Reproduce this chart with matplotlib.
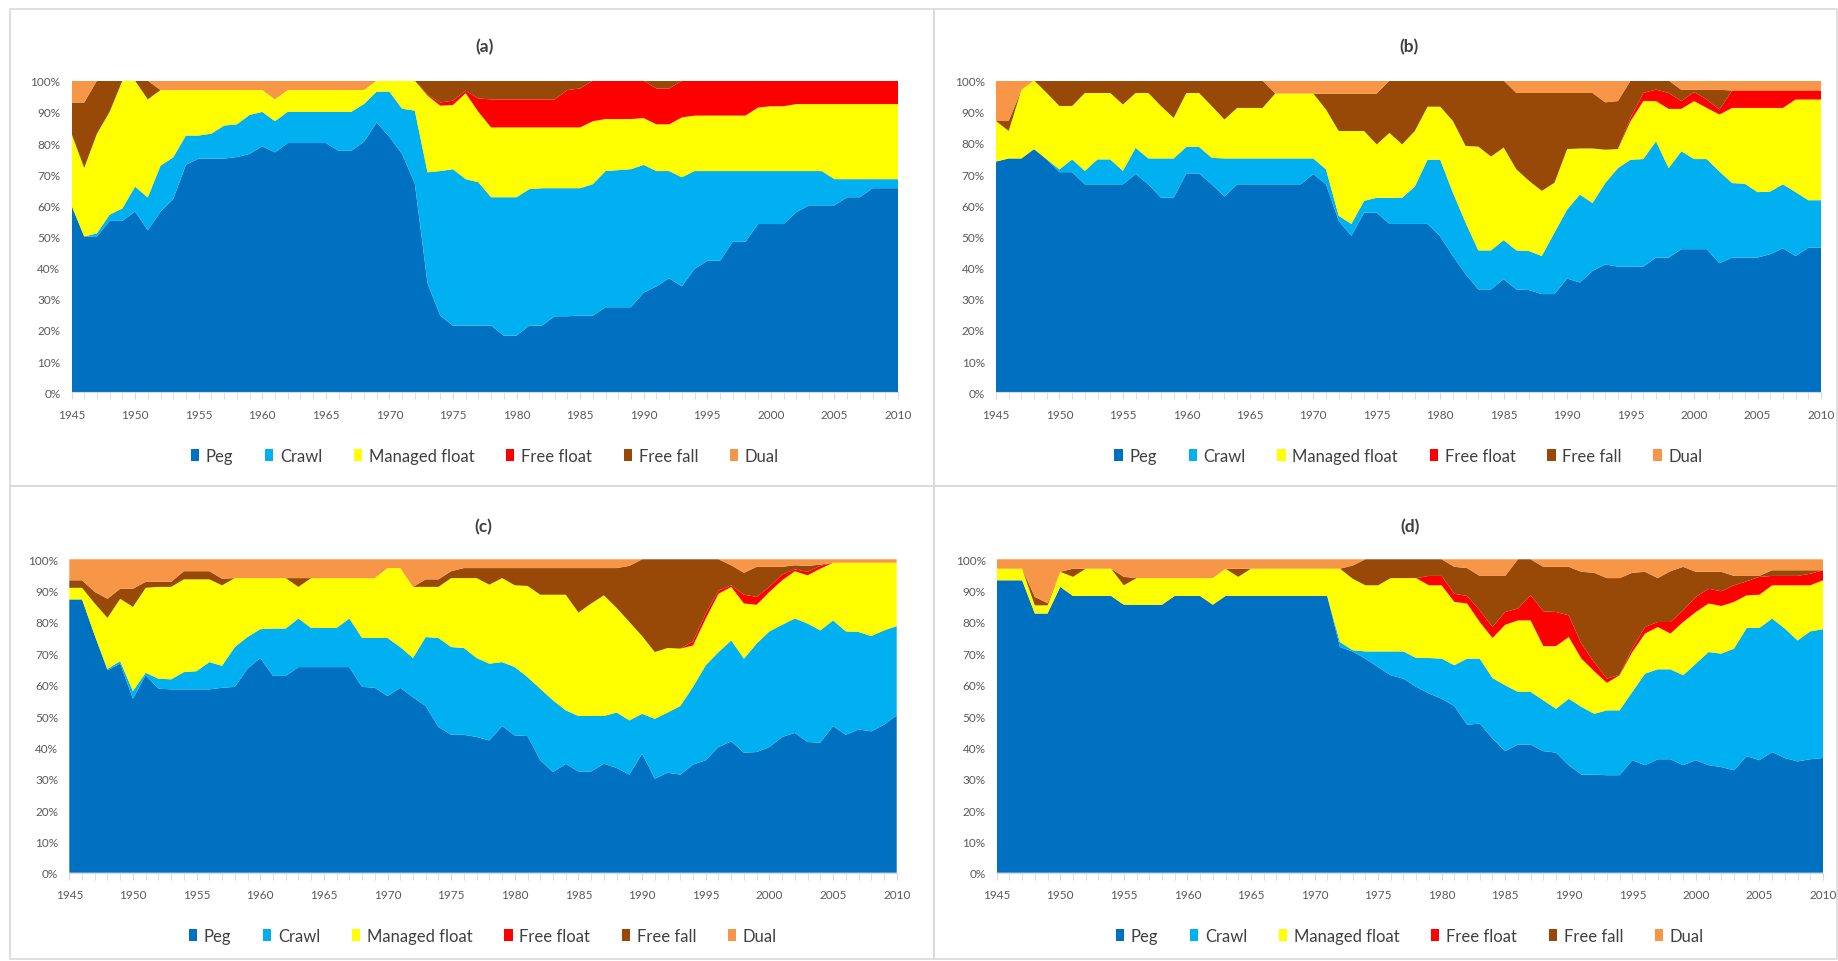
import numpy as np
import matplotlib
matplotlib.use("Agg")
import matplotlib.pyplot as plt
from matplotlib.patches import Patch, Rectangle
from matplotlib.ticker import MultipleLocator, FuncFormatter

plt.rcParams['font.family'] = ['Lato', 'DejaVu Sans']

years = list(range(1945, 2011))

regimes = ['Peg', 'Crawl', 'Managed float', 'Free float', 'Free fall', 'Dual']
colors = ['#0070C0', '#00B0F0', '#FFFF00', '#FF0000', '#984807', '#F79646']
panel_titles = ['(a)', '(b)', '(c)', '(d)']

# upper edge (cumulative %) of each regime band, 1945..2010
# panel (a)
peg_top_a = [60, 50, 50, 55, 55, 58, 52, 58, 62, 73,
             75, 75, 75, 75.5, 76.5, 79, 77, 80, 80, 80,
             80, 77.5, 77.5, 80.4, 86.6, 82, 76.5, 67, 35, 24.6,
             21.4, 21.4, 21.4, 21.4, 18.2, 18.2, 21.4, 21.4, 24.4, 24.4,
             24.6, 24.6, 27.3, 27.3, 27.3, 32, 34, 36.6, 34, 39.6,
             42.2, 42.2, 48.3, 48.3, 54, 54, 54, 57.8, 60, 60,
             60, 62.6, 62.6, 65.5, 65.5, 65.5]
crawl_top_a = [60, 50, 51, 57, 59, 66, 62.5, 72.7, 75.4, 82.4,
               82.4, 83, 85.6, 86, 89, 90, 87, 90, 90, 90,
               90, 90, 90, 92.5, 96.5, 96.5, 91, 90.4, 70.6, 71,
               71.6, 68.4, 67.4, 62.6, 62.6, 62.6, 65.2, 65.5, 65.5, 65.5,
               65.5, 66.8, 71, 71.3, 71.6, 73, 71, 71, 69, 71,
               71, 71, 71, 71, 71, 71, 71, 71, 71, 71,
               68.4, 68.4, 68.4, 68.4, 68.4, 68.4]
managed_top_a = [83, 72, 83, 90, 100, 100, 94, 97, 97, 97,
                 97, 97, 97, 97, 97, 97, 94, 97, 97, 97,
                 97, 97, 97, 97, 100, 100, 100, 100, 95.2, 92,
                 92.2, 96, 90, 85, 85, 85, 85, 85, 85, 85,
                 85, 87, 87.7, 87.7, 87.7, 88, 86, 86, 88.2, 88.8,
                 88.8, 88.8, 88.8, 88.8, 91.4, 91.8, 91.8, 92.5, 92.5, 92.5,
                 92.5, 92.5, 92.5, 92.5, 92.5, 92.5]
float_top_a = [83, 72, 83, 90, 100, 100, 94, 97, 97, 97,
               97, 97, 97, 97, 97, 97, 94, 97, 97, 97,
               97, 97, 97, 97, 100, 100, 100, 100, 95.5, 93,
               93.6, 96.8, 94.3, 94, 94, 94, 94, 94, 94, 97,
               97.5, 100, 100, 100, 100, 100, 97.5, 97.5, 100, 100,
               100, 100, 100, 100, 100, 100, 100, 100, 100, 100,
               100, 100, 100, 100, 100, 100]
fall_top_a = [93, 93, 100, 100, 100, 100, 100, 97, 97, 97,
              97, 97, 97, 97, 97, 97, 94, 97, 97, 97,
              97, 97, 97, 97, 100, 100, 100, 100, 100, 100,
              100, 100, 100, 100, 100, 100, 100, 100, 100, 100,
              100, 100, 100, 100, 100, 100, 100, 100, 100, 100,
              100, 100, 100, 100, 100, 100, 100, 100, 100, 100,
              100, 100, 100, 100, 100, 100]

# panel (b)
peg_top_b = [74, 75, 75, 78, 74.7, 70.6, 70.6, 66.7, 66.7, 66.7,
             66.7, 70, 66.7, 62.4, 62.4, 70.2, 70.2, 66.7, 62.8, 66.7,
             66.7, 66.7, 66.7, 66.7, 66.7, 70, 66.7, 55, 50.2, 57.6,
             57.6, 54, 54, 54, 54, 50, 43.7, 37.9, 33, 33,
             36.3, 33, 32.8, 31.5, 31.5, 36.5, 35.2, 38.9, 41, 40.3,
             40.3, 40.3, 43.2, 43.2, 45.9, 45.9, 45.9, 41.4, 43.2, 43.2,
             43.2, 44.3, 46.2, 43.7, 46.4, 46.4]
crawl_top_b = [74, 75, 75, 78, 74.7, 71.5, 74.7, 71, 74.7, 74.7,
               71, 78.4, 75, 75, 75, 78.7, 78.7, 75.2, 75, 75,
               75, 75, 75, 75, 75, 75, 71.5, 56.6, 54, 61.4,
               62.4, 62.4, 62.4, 66, 74.6, 74.6, 64, 54.4, 45.5, 45.5,
               48.8, 45.5, 45.3, 43.7, 51.2, 58.6, 63.4, 60.7, 67.1, 71.9,
               74.6, 74.8, 80.5, 71.9, 77.3, 74.8, 74.8, 70.8, 67.1, 66.9,
               64.2, 64.4, 66.7, 64.2, 61.6, 61.6]
managed_top_b = [87, 83.8, 97, 100, 96, 91.8, 91.8, 96, 96, 96,
                 92.3, 96, 96, 91.8, 88, 96, 96, 91.8, 87.5, 91.2,
                 91.2, 91.2, 95.8, 95.8, 95.8, 95.8, 90.7, 83.8, 83.8, 83.8,
                 79.5, 83.2, 79.5, 83.8, 91.6, 91.6, 87, 79, 78.8, 75.6,
                 78.5, 71.5, 67.8, 64.6, 67.2, 78, 78.2, 78.2, 77.8, 78,
                 87, 93.4, 93.4, 90.9, 90.9, 93.4, 91.2, 89.1, 91.2, 91.2,
                 91.2, 91.2, 91.2, 93.9, 93.9, 93.9]
float_top_b = [87, 83.8, 97, 100, 96, 91.8, 91.8, 96, 96, 96,
               92.3, 96, 96, 91.8, 88, 96, 96, 91.8, 87.5, 91.2,
               91.2, 91.2, 95.8, 95.8, 95.8, 95.8, 90.7, 83.8, 83.8, 83.8,
               79.5, 83.2, 79.5, 83.8, 91.6, 91.6, 87, 79, 78.8, 75.6,
               78.5, 71.5, 67.8, 64.6, 67.2, 78, 78.2, 78.2, 77.8, 78,
               88, 96, 97.1, 96, 93.4, 96.3, 93.9, 90.7, 96.8, 96.8,
               96.8, 96.8, 96.8, 96.8, 96.8, 96.8]
fall_top_b = [87, 87, 97, 100, 100, 100, 100, 100, 100, 100,
              100, 100, 100, 100, 100, 100, 100, 100, 100, 100,
              100, 100, 95.8, 95.8, 95.8, 95.8, 95.8, 95.8, 95.8, 95.8,
              95.8, 100, 100, 100, 100, 100, 100, 100, 100, 100,
              100, 96, 96, 96, 96, 96, 96, 96, 93, 93.4,
              100, 100, 100, 100, 97, 97, 97, 97, 96.8, 96.8,
              96.8, 96.8, 96.8, 96.8, 96.8, 96.8]

# panel (c)
peg_top_c = [87.2, 87.2, 75.7, 64.6, 66.7, 55.5, 63, 58.7, 58.5, 58.5,
             58.5, 58.5, 59, 59.3, 65.1, 68.5, 62.8, 62.8, 65.6, 65.6,
             65.6, 65.6, 65.6, 59.3, 59, 56.4, 59, 56, 53.2, 46.5,
             44, 44, 43.3, 42.2, 46.8, 43.8, 43.6, 35.9, 32.1, 34.7,
             32.3, 32.3, 34.8, 33.4, 31.3, 38, 30, 31.9, 31.3, 34.5,
             35.9, 40.1, 41.9, 38.3, 38.5, 40.1, 43.3, 44.6, 41.7, 41.5,
             46.8, 44, 45.7, 45.1, 47.2, 50.2]
crawl_top_c = [87.2, 87.2, 75.7, 65, 67.5, 57.9, 63.8, 61.9, 61.7, 64,
               64.3, 67.2, 66, 72, 75.2, 77.7, 77.9, 77.9, 81.1, 78.1,
               78.1, 78.1, 81.1, 74.9, 74.9, 74.9, 72, 68.5, 75.2, 74.9,
               72, 71.7, 68.5, 66.7, 67.2, 65.6, 62.4, 58.7, 55, 51.8,
               50, 50, 50, 51.1, 48.6, 50.7, 49.1, 51.1, 53.2, 59.3,
               66.2, 70.4, 74.1, 68.3, 73.1, 77, 79.1, 81.1, 79.5, 77.3,
               80.5, 77, 76.8, 75.5, 77.3, 78.7]
managed_top_c = [90.9, 90.9, 85.9, 81.3, 87.4, 84.8, 90.9, 91.2, 91.2, 93.6,
                 93.6, 93.6, 91.7, 94, 94, 94, 94, 94, 91.2, 94,
                 94, 94, 94, 94, 94, 97.2, 97.2, 91.2, 91.2, 91.2,
                 94, 94, 94, 91.9, 94, 91.7, 91.5, 88.7, 88.7, 88.7,
                 83, 85.9, 88.5, 84.5, 80, 75.5, 70.4, 71.7, 71.5, 72.5,
                 81.1, 89, 91.2, 85.9, 85.5, 89.6, 93.3, 96.2, 94.9, 97,
                 98.9, 98.9, 98.9, 98.9, 98.9, 98.9]
float_top_c = [90.9, 90.9, 85.9, 81.3, 87.4, 84.8, 90.9, 91.2, 91.2, 93.6,
               93.6, 93.6, 91.7, 94, 94, 94, 94, 94, 91.2, 94,
               94, 94, 94, 94, 94, 97.2, 97.2, 91.2, 91.2, 91.2,
               94, 94, 94, 91.9, 94, 91.7, 91.5, 88.7, 88.7, 88.7,
               83, 85.9, 88.5, 84.5, 80, 75.5, 70.4, 71.7, 71.5, 73.8,
               82.7, 90, 91.7, 88.7, 88, 91.2, 95.1, 96.8, 96, 97.9,
               98.9, 98.9, 98.9, 98.9, 98.9, 98.9]
fall_top_c = [93.3, 93.3, 89.6, 87.4, 90.6, 90.6, 92.8, 92.8, 92.8, 96.2,
              96.2, 96.2, 93.8, 94, 94, 94, 94, 94, 94, 94,
              94, 94, 94, 94, 94, 97.2, 97.2, 91.2, 93.6, 93.6,
              96.2, 97.2, 97.2, 97.2, 97.2, 97.2, 97.2, 97.2, 97.2, 97.2,
              97.2, 97.2, 97.2, 97.2, 97.9, 100, 100, 100, 100, 100,
              100, 100, 98.1, 95.7, 97.6, 97.6, 97.6, 98.1, 97.9, 98.3,
              98.9, 98.9, 98.9, 98.9, 98.9, 98.9]

# panel (d)
peg_top_d = [93.3, 93.3, 93.3, 82.7, 82.7, 91.2, 88.3, 88.3, 88.3, 88.3,
             85.5, 85.5, 85.5, 85.5, 88.3, 88.3, 88.3, 85.5, 88.3, 88.3,
             88.3, 88.3, 88.3, 88.3, 88.3, 88.3, 88.3, 72, 70.6, 68.3,
             65.6, 63, 61.9, 59.3, 57.2, 55.5, 53.2, 47.2, 47.6, 42.8,
             38.8, 40.9, 40.9, 38.8, 38.3, 34.3, 31.3, 31.3, 31.1, 31.1,
             35.9, 34.3, 36.2, 36.2, 34.3, 35.9, 34.3, 33.7, 32.7, 37.2,
             35.9, 38.5, 36.6, 35.5, 36.2, 36.6]
crawl_top_d = [93.3, 93.3, 93.3, 82.7, 82.7, 91.2, 88.3, 88.3, 88.3, 88.3,
               85.5, 85.5, 85.5, 85.5, 88.3, 88.3, 88.3, 85.5, 88.3, 88.3,
               88.3, 88.3, 88.3, 88.3, 88.3, 88.3, 88.3, 73.6, 71, 70.6,
               70.6, 70.6, 70.6, 68.5, 68.5, 68.3, 66.2, 68.3, 68.3, 62.1,
               59.8, 57.7, 57.7, 55, 52.3, 55.5, 52.9, 50.7, 51.8, 51.8,
               57.7, 63.5, 64.9, 64.9, 63, 66.7, 70.4, 69.9, 71.5, 78.1,
               78.1, 81.1, 77.9, 74.1, 77, 77.7]
managed_top_d = [97, 97, 97, 85.3, 85.3, 96, 94.4, 97, 97, 97,
                 91.7, 94, 94, 94, 94, 94, 94, 94, 97, 94.4,
                 97, 97, 97, 97, 97, 97, 97, 97, 93.8, 91.7,
                 91.7, 94, 94, 94, 91.7, 91.7, 86.4, 85.9, 80, 74.9,
                 79.1, 80.5, 80.5, 72.3, 72.3, 75.2, 68.3, 64.3, 60.6, 63,
                 70.4, 76.3, 78.4, 76.3, 80, 83.2, 85.9, 85.1, 86.4, 88.5,
                 88.7, 91.7, 91.7, 91.7, 91.7, 93.3]
float_top_d = [97, 97, 97, 85.3, 85.3, 96, 94.4, 97, 97, 97,
               91.7, 94, 94, 94, 94, 94, 94, 94, 97, 94.4,
               97, 97, 97, 97, 97, 97, 97, 97, 93.8, 91.7,
               91.7, 94, 94, 94, 94.7, 94.7, 89, 88.3, 83.7, 78.4,
               83.2, 84.3, 88.5, 83.4, 83.2, 82.1, 73, 67.2, 61.9, 63.2,
               71.5, 78.4, 80, 80, 83.7, 88, 90.6, 89.8, 91.7, 93,
               94.4, 94.7, 94.7, 94.7, 95.4, 96.5]
fall_top_d = [97, 97, 97, 88, 86, 96, 97, 97, 97, 97,
              94.4, 94, 94, 94, 94, 94, 94, 94, 97, 97,
              97, 97, 97, 97, 97, 97, 97, 97, 98, 100,
              100, 100, 100, 100, 100, 100, 97.6, 97.2, 94.7, 94.7,
              94.7, 100, 100, 97.6, 97.6, 97.6, 96, 95.7, 94, 94,
              95.7, 96, 94, 96.2, 97.6, 96, 96, 96, 94.7, 94.7,
              94.7, 96.5, 96.5, 96.5, 96.5, 96.5]

panels = [
    [peg_top_a, crawl_top_a, managed_top_a, float_top_a, fall_top_a],
    [peg_top_b, crawl_top_b, managed_top_b, float_top_b, fall_top_b],
    [peg_top_c, crawl_top_c, managed_top_c, float_top_c, fall_top_c],
    [peg_top_d, crawl_top_d, managed_top_d, float_top_d, fall_top_d],
]

# axes boxes in pixels: left, top, right, bottom
W, H = 1838, 962
boxes = [(71.5, 81.7, 898, 393.3),
         (996, 81.5, 1821, 393.3),
         (69.3, 560.3, 896.7, 873.7),
         (996.7, 560.3, 1823, 873.7)]
legend_y = [457, 457, 937, 937]
title_y = [47, 47, 527, 527]

fig = plt.figure(figsize=(W / 100, H / 100), dpi=100)

# grey panel frames
for (x0, y0, x1, y1) in [(10, 10, 934, 487), (934, 10, 1837, 487),
                         (10, 487, 934, 960), (934, 487, 1837, 960)]:
    fig.add_artist(Rectangle((x0 / W, 1 - y1 / H), (x1 - x0) / W, (y1 - y0) / H,
                             transform=fig.transFigure, fill=False,
                             edgecolor='#d9d9d9', linewidth=1.2))

for i, (tops, box) in enumerate(zip(panels, boxes)):
    l, t, r, b = box
    ax = fig.add_axes([l / W, 1 - b / H, (r - l) / W, (b - t) / H])
    edges = np.vstack([np.zeros(len(years)), np.array(tops), np.full(len(years), 100.0)])
    shares = np.clip(np.diff(edges, axis=0), 0, None)
    ax.stackplot(years, shares, colors=colors, linewidth=0, antialiased=True)

    ax.set_xlim(1945, 2010)
    ax.set_ylim(0, 100)
    ax.xaxis.set_major_locator(MultipleLocator(5))
    ax.xaxis.set_minor_locator(MultipleLocator(1))
    ax.yaxis.set_major_locator(MultipleLocator(10))
    ax.yaxis.set_major_formatter(FuncFormatter(lambda v, p: f"{int(v)}%"))
    for s in ['top', 'right', 'left']:
        ax.spines[s].set_visible(False)
    ax.spines['bottom'].set_color('#d9d9d9')
    ax.tick_params(axis='x', which='both', direction='out', length=5, color='#d9d9d9',
                   labelsize=8.5, labelcolor='#595959', pad=7)
    ax.tick_params(axis='y', length=0, labelsize=8.5, labelcolor='#595959', pad=8)

    cx = (l + r) / 2 / W
    fig.text(cx, 1 - title_y[i] / H, panel_titles[i], ha='center', va='center',
             fontsize=12.5, fontweight='bold', color='#404040')

    handles = [Patch(facecolor=c, edgecolor='none', label=n) for c, n in zip(colors, regimes)]
    fig.legend(handles=handles, loc='center', bbox_to_anchor=(cx, 1 - legend_y[i] / H),
               ncol=6, frameon=False, fontsize=12, handlelength=0.5, handleheight=0.7,
               handletextpad=0.4, columnspacing=1.9, labelcolor='#404040')

fig.savefig('out.png', dpi=100)
